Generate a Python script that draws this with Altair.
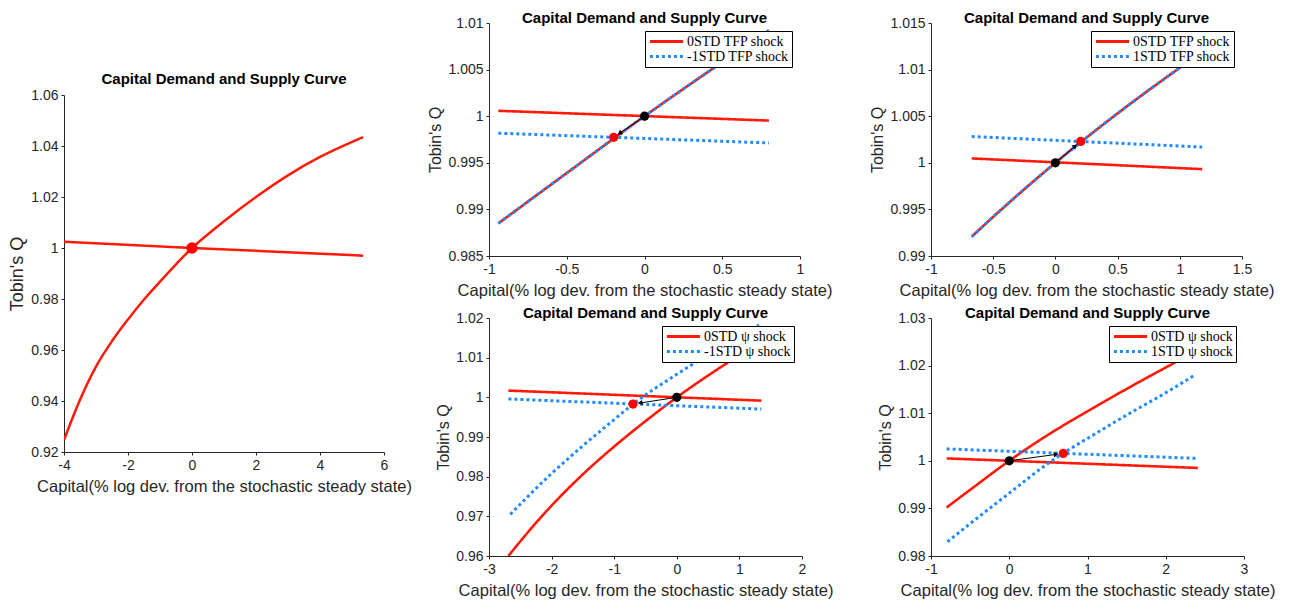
import math
import altair as alt
import pandas as pd

RED = "#FF1A0A"
BLUE = "#1F8BFF"
DOT_RED = "#FF0000"
INK = "#262626"
TITLE = "Capital Demand and Supply Curve"
XTITLE = "Capital(% log dev. from the stochastic steady state)"
YTITLE = "Tobin's Q"
FMT = "replace(format(datum.value, '.3~f'), '\u2212', '-')"

# ---------------- Panel 1 (left) ----------------
p1_sup_x = [-4, -3.5, -3, -2.5, -2, -1.5, -1, -0.5, 0, 0.5, 1, 2, 3, 4, 5.35]
p1_sup_y = [0.9247, 0.9405, 0.9535, 0.9635, 0.9720, 0.9798, 0.9868, 0.9936, 1.0,
            1.0054, 1.0105, 1.0200, 1.0285, 1.0357, 1.0435]
p1_dem_x = [-4, 0, 5.35]
p1_dem_y = [1.0025, 1.0, 0.9970]
p1_eq = (0.0, 1.0)
p1_xticks = [-4, -2, 0, 2, 4, 6]
p1_yticks = [0.92, 0.94, 0.96, 0.98, 1.0, 1.02, 1.04, 1.06]

# ---------------- Panel 2 (TFP, -1 STD) ----------------
p2_labels = ["0STD TFP shock", "-1STD TFP shock"]
p2_sup_x = [-0.94, -0.5, 0, 0.5, 0.8]
p2_sup_y = [0.9885, 0.9939, 1.0, 1.0058, 1.0092]
p2_dem_x = [-0.94, 0.8]
p2_dem0_y = [1.00058, 0.99953]
p2_dem1_y = [0.99818, 0.99713]
p2_old = (0.0, 1.0)
p2_new = (-0.198, 0.99773)
p2_xticks = [-1, -0.5, 0, 0.5, 1]
p2_yticks = [0.985, 0.99, 0.995, 1.0, 1.005, 1.01]

# ---------------- Panel 3 (TFP, +1 STD) ----------------
p3_labels = ["0STD TFP shock", "1STD TFP shock"]
p3_sup_x = [-0.673, -0.5, 0, 0.5, 1.0, 1.18]
p3_sup_y = [0.99207, 0.9942, 1.0, 1.0053, 1.0102, 1.0119]
p3_dem_x = [-0.673, 1.18]
p3_dem0_y = [1.00047, 0.99932]
p3_dem1_y = [1.00282, 1.00169]
p3_old = (0.0, 1.0)
p3_new = (0.203, 1.00229)
p3_xticks = [-1, -0.5, 0, 0.5, 1, 1.5]
p3_yticks = [0.99, 0.995, 1.0, 1.005, 1.01, 1.015]

# ---------------- Panel 4 (psi, -1 STD) ----------------
p4_labels = ["0STD \u03c8 shock", "-1STD \u03c8 shock"]
p4_sup0_x = [-2.69, -2.5, -2, -1.5, -1, -0.5, 0, 0.5, 1.0, 1.35]
p4_sup0_y = [0.9600, 0.9637, 0.9727, 0.9806, 0.9876, 0.9940, 1.0, 1.0055, 1.0106, 1.0140]
p4_sup1_x = [-2.66, -2, -1.5, -1, -0.7, 0, 0.5, 1.0, 1.31]
p4_sup1_y = [0.9705, 0.9808, 0.9878, 0.9944, 0.9983, 1.0058, 1.0108, 1.0155, 1.0183]
p4_dem_x = [-2.69, 1.35]
p4_dem0_y = [1.0017, 0.99916]
p4_dem1_y = [0.99958, 0.99704]
p4_old = (0.0, 1.0)
p4_new = (-0.70, 0.9983)
p4_xticks = [-3, -2, -1, 0, 1, 2]
p4_yticks = [0.96, 0.97, 0.98, 0.99, 1.0, 1.01, 1.02]

# ---------------- Panel 5 (psi, +1 STD) ----------------
p5_labels = ["0STD \u03c8 shock", "1STD \u03c8 shock"]
p5_sup0_x = [-0.8, -0.5, 0, 0.5, 1, 1.5, 2, 2.41]
p5_sup0_y = [0.9902, 0.9939, 1.0, 1.0055, 1.0104, 1.0151, 1.0196, 1.0232]
p5_sup1_x = [-0.79, -0.5, 0, 0.5, 0.69, 1, 1.5, 2, 2.37]
p5_sup1_y = [0.9830, 0.9868, 0.9932, 0.9995, 1.0016, 1.0047, 1.0096, 1.0143, 1.0180]
p5_dem_x = [-0.8, 2.41]
p5_dem0_y = [1.0005, 0.9985]
p5_dem1_y = [1.0025, 1.0005]
p5_old = (0.0, 1.0)
p5_new = (0.69, 1.00155)
p5_xticks = [-1, 0, 1, 2, 3]
p5_yticks = [0.98, 0.99, 1.0, 1.01, 1.02, 1.03]


def curve_df(curves):
    rows = []
    for name, series, xs, ys in curves:
        for x, y in zip(xs, ys):
            rows.append({"x": x, "y": y, "series": series, "curve": name})
    return pd.DataFrame(rows)


def encodings(xdom, ydom, xt, yt, big):
    lab = 14
    ytf = 18 if big else 16
    X = alt.X("x:Q", scale=alt.Scale(domain=xdom, nice=False, zero=False),
              axis=alt.Axis(values=xt, labelExpr=FMT, title=XTITLE, titleFontSize=16.5,
                            labelFontSize=lab, tickSize=3, labelPadding=3, titlePadding=6,
                            labelFlush=False, labelOverlap=False))
    Y = alt.Y("y:Q", scale=alt.Scale(domain=ydom, nice=False, zero=False),
              axis=alt.Axis(values=yt, labelExpr=FMT, title=YTITLE, titleFontSize=ytf,
                            labelFontSize=lab, tickSize=3, labelPadding=3, titlePadding=4,
                            labelFlush=False, labelOverlap=False))
    return X, Y


def arrow_layers(old, new, xdom, ydom, w, h, X, Y):
    px = w / (xdom[1] - xdom[0])
    py = h / (ydom[1] - ydom[0])
    dx = (new[0] - old[0]) * px
    dy = -(new[1] - old[1]) * py
    L = math.hypot(dx, dy)
    f = max(0.0, 1 - 8.0 / L)
    hx = old[0] + f * (new[0] - old[0])
    hy = old[1] + f * (new[1] - old[1])
    ang = math.degrees(math.atan2(dx, -dy)) % 360
    seg = pd.DataFrame({"x": [old[0]], "y": [old[1]], "x2": [hx], "y2": [hy]})
    rule = alt.Chart(seg).mark_rule(color="black", strokeWidth=1).encode(
        x=X, y=Y, x2="x2:Q", y2="y2:Q")
    head = alt.Chart(pd.DataFrame({"x": [hx], "y": [hy]})).mark_point(
        shape="triangle", filled=True, color="black", size=30, angle=ang, opacity=1
    ).encode(x=X, y=Y)
    return rule, head


def dot(pt, color, size, X, Y):
    return alt.Chart(pd.DataFrame({"x": [pt[0]], "y": [pt[1]]})).mark_point(
        filled=True, size=size, color=color, opacity=1, strokeWidth=0
    ).encode(x=X, y=Y)


def title(text, offset):
    return alt.TitleParams(text, fontSize=15, fontWeight="bold", font="Liberation Sans",
                           color="black", offset=offset, anchor="middle")


def shock_panel(labels, red_curves, blue_curves, old, new, xdom, ydom, xt, yt, w, h):
    X, Y = encodings(xdom, ydom, xt, yt, False)
    leg = alt.Legend(title=None, orient="top-right", offset=8, fillColor="white",
                     strokeColor="black", padding=3, labelFont="Liberation Serif",
                     labelFontSize=14, labelColor="black", symbolSize=1100,
                     symbolStrokeWidth=3, clipHeight=15, rowPadding=0, labelOffset=2,
                     symbolType="stroke", cornerRadius=0)
    C = alt.Color("series:N", scale=alt.Scale(domain=labels, range=[RED, BLUE]), legend=leg)
    D = alt.StrokeDash("series:N", scale=alt.Scale(domain=labels, range=[[1, 0], [3, 3]]),
                       legend=leg)
    red = alt.Chart(curve_df([(n, labels[0], xs, ys) for n, xs, ys in red_curves])).mark_line(
        strokeWidth=2.6, clip=True, strokeCap="butt", interpolate="monotone").encode(
        x=X, y=Y, color=C, strokeDash=D, detail="curve:N")
    blue = alt.Chart(curve_df([(n, labels[1], xs, ys) for n, xs, ys in blue_curves])).mark_line(
        strokeWidth=3, clip=True, strokeCap="butt", interpolate="monotone").encode(
        x=X, y=Y, color=C, strokeDash=D, detail="curve:N")
    rule, head = arrow_layers(old, new, xdom, ydom, w, h, X, Y)
    return alt.layer(
        red, blue, dot(new, DOT_RED, 85, X, Y), dot(old, "black", 85, X, Y), rule, head
    ).properties(width=w, height=h, title=title(TITLE, -10))


# Panel 1
X1, Y1 = encodings([-4, 6], [0.92, 1.06], p1_xticks, p1_yticks, True)
p1_df = curve_df([("supply", "s", p1_sup_x, p1_sup_y), ("demand", "d", p1_dem_x, p1_dem_y)])
p1_lines = alt.Chart(p1_df).mark_line(strokeWidth=2.5, color=RED, clip=True,
                                      interpolate="monotone").encode(
    x=X1, y=Y1, detail="curve:N")
p1 = alt.layer(p1_lines, dot(p1_eq, DOT_RED, 130, X1, Y1)).properties(
    width=320, height=357, title=title(TITLE, 1))

spacer = alt.Chart(pd.DataFrame({"v": [0]})).mark_point(opacity=0).encode(
    x=alt.X("v:Q", axis=None), y=alt.Y("v:Q", axis=None)).properties(width=10, height=49)

p2 = shock_panel(p2_labels,
                 [("s", p2_sup_x, p2_sup_y), ("d", p2_dem_x, p2_dem0_y)],
                 [("s", p2_sup_x, p2_sup_y), ("d", p2_dem_x, p2_dem1_y)],
                 p2_old, p2_new, [-1, 1], [0.985, 1.01], p2_xticks, p2_yticks, 311, 233)
p3 = shock_panel(p3_labels,
                 [("s", p3_sup_x, p3_sup_y), ("d", p3_dem_x, p3_dem0_y)],
                 [("s", p3_sup_x, p3_sup_y), ("d", p3_dem_x, p3_dem1_y)],
                 p3_old, p3_new, [-1, 1.5], [0.99, 1.015], p3_xticks, p3_yticks, 311, 233)
p4 = shock_panel(p4_labels,
                 [("s", p4_sup0_x, p4_sup0_y), ("d", p4_dem_x, p4_dem0_y)],
                 [("s", p4_sup1_x, p4_sup1_y), ("d", p4_dem_x, p4_dem1_y)],
                 p4_old, p4_new, [-3, 2], [0.96, 1.02], p4_xticks, p4_yticks, 313, 238)
p5 = shock_panel(p5_labels,
                 [("s", p5_sup0_x, p5_sup0_y), ("d", p5_dem_x, p5_dem0_y)],
                 [("s", p5_sup1_x, p5_sup1_y), ("d", p5_dem_x, p5_dem1_y)],
                 p5_old, p5_new, [-1, 3], [0.98, 1.03], p5_xticks, p5_yticks, 313, 238)


def indep(c):
    return c.resolve_scale(color="independent", strokeDash="independent").resolve_legend(
        color="independent", strokeDash="independent")


col1 = alt.vconcat(spacer, p1, spacing=0)
col2 = indep(alt.vconcat(p2, p4, spacing=7))
col3 = indep(alt.vconcat(p3, p5, spacing=7))
right = indep(alt.hconcat(col2, col3, spacing=36))
chart = indep(alt.hconcat(col1, right, spacing=15)).properties(
    padding={"left": 0, "top": 3, "right": 2, "bottom": 0}
).configure_view(stroke=None).configure_axis(
    domainColor=INK, tickColor=INK, labelColor=INK, titleColor=INK,
    labelFont="Liberation Sans", titleFont="Liberation Sans", titleFontWeight="normal",
    grid=False, domainWidth=1
)

chart.save("out.html", embed_options={"renderer": "svg", "actions": False})
